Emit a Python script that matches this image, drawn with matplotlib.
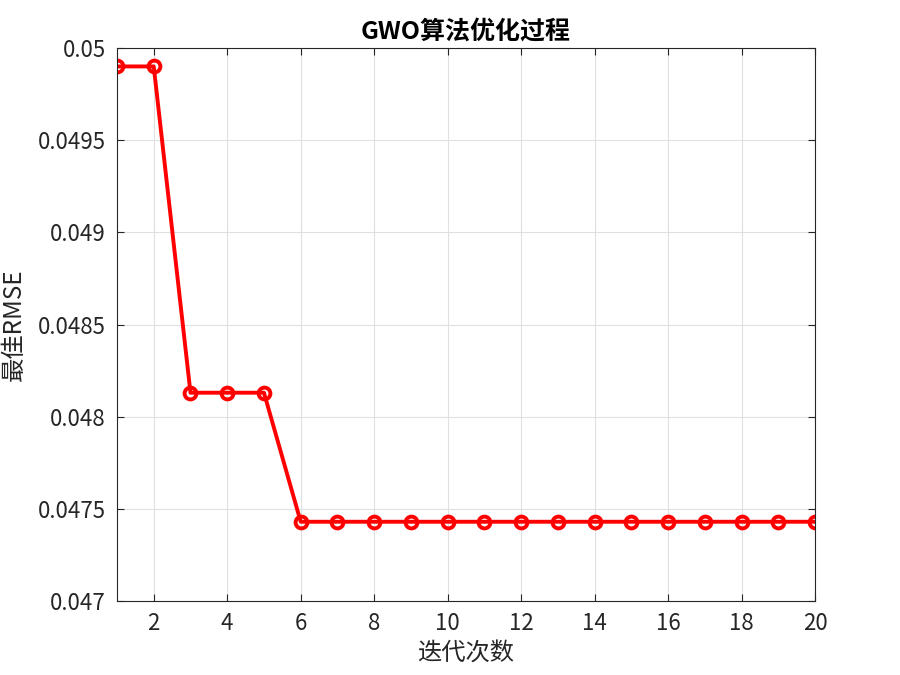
import matplotlib
matplotlib.use('Agg')
import matplotlib.pyplot as plt
import numpy as np

plt.rcParams['font.family'] = ['Noto Sans CJK SC', 'DejaVu Sans']

iterations = list(range(1, 21))
best_rmse = [0.04990, 0.04990, 0.04813, 0.04813, 0.04813] + [0.04743] * 15

fig = plt.figure(figsize=(9, 6.75), dpi=100)
ax = fig.add_axes([0.13, 0.1096, 0.7756, 0.8193])

ax.plot(iterations, best_rmse, color='#ff0000', linewidth=2.8, marker='o',
        markersize=8.5, markerfacecolor='none', markeredgewidth=2.8)

ax.set_xlim(1, 20)
ax.set_ylim(0.047, 0.05)
ax.set_xticks(np.arange(2, 21, 2))
ax.set_yticks([0.047, 0.0475, 0.048, 0.0485, 0.049, 0.0495, 0.05])
ax.set_yticklabels(['0.047', '0.0475', '0.048', '0.0485', '0.049', '0.0495', '0.05'])
ax.grid(True, color='#e0e0e0', linewidth=0.8)
ax.tick_params(direction='in', top=True, right=True, labelsize=16, colors='#262626',
               length=5, width=0.8, pad=8)
for s in ax.spines.values():
    s.set_color('#262626')
    s.set_linewidth(0.8)

ax.set_xlabel('迭代次数', fontsize=17.5, color='#262626', labelpad=4)
ax.set_ylabel('最佳RMSE', fontsize=17.5, color='#262626', labelpad=8)
ax.set_title('GWO算法优化过程', fontsize=18, fontweight='bold', pad=6)

fig.savefig('out.png', dpi=100)
